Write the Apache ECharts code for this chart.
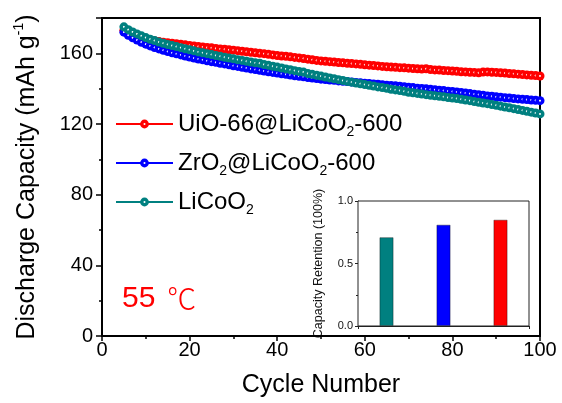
<!DOCTYPE html>
<html><head><meta charset="utf-8">
<script src="https://cdn.jsdelivr.net/npm/echarts@6/dist/echarts.min.js"></script>
<style>html,body{margin:0;padding:0;background:#fff}#c{width:562px;height:403px}</style>
</head><body><div id="c"></div>
<script>
// ---------- DATA ----------
const cycles = [5,6,7,8,9,10,11,12,13,14,15,16,17,18,19,20,21,22,23,24,25,26,27,28,29,30,31,32,33,34,35,36,37,38,39,40,41,42,43,44,45,46,47,48,49,50,51,52,53,54,55,56,57,58,59,60,61,62,63,64,65,66,67,68,69,70,71,72,73,74,75,76,77,78,79,80,81,82,83,84,85,86,87,88,89,90,91,92,93,94,95,96,97,98,99,100];
const seriesNames = ['UiO-66@LiCoO2-600', 'ZrO2@LiCoO2-600', 'LiCoO2'];
const uioCapacity = [173.0,171.6,170.5,169.6,168.8,168.2,167.6,167.1,166.7,166.3,166.0,165.7,165.4,165.1,164.8,164.5,164.2,163.9,163.6,163.3,163.1,162.8,162.5,162.3,162.0,161.8,161.5,161.2,160.9,160.6,160.3,160.0,159.8,159.5,159.1,158.8,158.5,158.3,158.0,157.7,157.4,157.1,156.7,156.4,156.0,155.7,155.5,155.3,155.1,154.8,154.6,154.4,154.2,154.0,153.8,153.5,153.3,153.1,152.9,152.6,152.4,152.2,152.1,151.9,151.8,151.6,151.4,151.3,151.1,151.3,150.8,150.6,150.5,150.3,150.2,150.0,149.8,149.6,149.5,149.3,149.2,149.0,149.4,149.5,149.3,149.2,149.0,148.8,148.6,148.4,148.2,148.0,147.8,147.6,147.4,147.2];
const zro2Capacity = [172.0,170.2,168.8,167.5,166.3,165.2,164.2,163.3,162.5,161.7,161.0,160.3,159.7,159.1,158.5,157.9,157.3,156.8,156.3,155.8,155.3,154.9,154.4,154.0,153.5,153.0,152.6,152.1,151.7,151.2,150.8,150.4,150.0,149.6,149.2,148.8,148.4,148.1,147.7,147.3,147.0,146.7,146.3,146.0,145.7,145.4,145.2,144.9,144.7,144.4,144.2,144.0,143.8,143.5,143.3,143.1,142.9,142.7,142.5,142.2,142.0,141.8,141.6,141.3,141.1,140.8,140.6,140.3,140.1,139.9,139.6,139.4,139.1,138.9,138.6,138.4,138.1,137.8,137.5,137.2,136.9,136.6,136.3,135.9,135.7,135.4,135.2,134.9,134.7,134.4,134.2,134.0,133.8,133.6,133.4,133.2];
const licoo2Capacity = [175.0,173.4,172.1,171.0,169.9,168.9,168.0,167.2,166.4,165.7,165.0,164.4,163.8,163.2,162.6,162.0,161.4,160.8,160.3,159.8,159.3,158.8,158.3,157.8,157.3,156.9,156.4,156.0,155.5,155.1,154.6,154.4,153.7,153.2,152.7,152.2,151.7,151.2,150.7,150.2,149.7,149.4,148.6,148.1,147.6,147.1,146.6,146.1,145.6,145.1,144.6,144.1,143.7,143.2,142.8,142.3,141.9,141.5,141.0,140.6,140.2,139.7,139.3,138.9,138.5,138.0,137.7,137.3,137.0,136.6,136.3,136.0,135.7,135.4,135.0,134.7,134.4,134.0,133.6,133.2,132.7,132.3,131.9,131.5,131.0,130.6,130.1,129.6,129.2,128.7,128.2,127.7,127.2,126.7,126.2,125.7];
const insetCategories = ['LiCoO2', 'ZrO2@LiCoO2-600', 'UiO-66@LiCoO2-600'];
const retention = [0.71, 0.81, 0.85];
const yMaxHidden = 180;

// ---------- STYLE ----------
const FF = '"Liberation Sans", Arial, Helvetica, sans-serif';
const colors = { 'UiO-66@LiCoO2-600': '#ff0000', 'ZrO2@LiCoO2-600': '#0000ff', 'LiCoO2': '#008080' };
const legendRich = {
  'UiO-66@LiCoO2-600': '{t|UiO-66@LiCoO}{s|2}{t|-600}',
  'ZrO2@LiCoO2-600': '{t|ZrO}{s|2}{t|@LiCoO}{s|2}{t|-600}',
  'LiCoO2': '{t|LiCoO}{s|2}'
};
function ball(c) {
  return new echarts.graphic.RadialGradient(0.5, 0.5, 0.5, [
    { offset: 0, color: '#ffffff' },
    { offset: 0.1, color: '#ffffff' },
    { offset: 0.32, color: c },
    { offset: 1, color: c }
  ]);
}
const capData = [uioCapacity, zro2Capacity, licoo2Capacity];
const lineSeries = seriesNames.map((name, k) => ({
  name: name,
  type: 'line',
  xAxisIndex: 0, yAxisIndex: 0,
  data: cycles.map((c, i) => [c, capData[k][i]]),
  symbol: 'circle',
  symbolSize: 9,
  showSymbol: true,
  showAllSymbol: true,
  lineStyle: { width: 1, color: colors[name] },
  itemStyle: { color: ball(colors[name]), borderWidth: 0 },
  emphasis: { disabled: true },
  z: 3 + k
}));

const chart = echarts.init(document.getElementById('c'), null, { renderer: 'canvas' });
chart.setOption({
  animation: false,
  backgroundColor: '#fff',
  textStyle: { fontFamily: FF },
  grid: [
    { left: 102, top: 18, width: 438, height: 324, show: true, borderColor: '#000', borderWidth: 2, backgroundColor: 'transparent' },
    { left: 358, top: 201, width: 171, height: 125, show: true, borderColor: '#222', borderWidth: 1, backgroundColor: '#fff', z: 10 }
  ],
  legend: {
    data: seriesNames,
    orient: 'vertical',
    left: 115, top: 112, padding: 0,
    itemWidth: 57, itemHeight: 11, itemGap: 12,
    formatter: n => legendRich[n],
    textStyle: {
      fontFamily: FF, color: '#000', fontSize: 24,
      rich: {
        t: { fontFamily: FF, fontSize: 24, lineHeight: 30, color: '#000' },
        s: { fontFamily: FF, fontSize: 14, lineHeight: 12, verticalAlign: 'bottom', color: '#000' }
      }
    },
    selectedMode: false
  },
  xAxis: [
    {
      type: 'value', gridIndex: 0, min: 0, max: 100, interval: 20,
      name: 'Cycle Number', nameLocation: 'middle', nameGap: 37,
      nameTextStyle: { fontFamily: FF, fontSize: 25, color: '#000' },
      axisLine: { lineStyle: { color: '#000', width: 2 } },
      axisTick: { show: true, length: 5, lineStyle: { color: '#000', width: 1.5 } },
      minorTick: { show: true, splitNumber: 2, length: 3, lineStyle: { color: '#000', width: 1.5 } },
      axisLabel: { fontFamily: FF, fontSize: 20, color: '#000', margin: 4 },
      splitLine: { show: false }, minorSplitLine: { show: false }
    },
    {
      type: 'category', gridIndex: 1, data: insetCategories, boundaryGap: true,
      axisLine: { lineStyle: { color: '#222', width: 1 } },
      axisTick: { show: true, length: 3, lineStyle: { color: '#222', width: 1 } },
      axisLabel: { show: false },
      splitLine: { show: false }
    }
  ],
  yAxis: [
    {
      type: 'value', gridIndex: 0, min: 0, max: 180, interval: 40, position: 'left',
      name: '{n|Discharge Capacity (mAh g}{p|-1}{n|)}',
      nameLocation: 'middle', nameRotate: 90, nameGap: 60,
      nameTextStyle: { fontFamily: FF, fontSize: 25, color: '#000',
        rich: {
          n: { fontFamily: FF, fontSize: 25, lineHeight: 30, color: '#000' },
          p: { fontFamily: FF, fontSize: 14, lineHeight: 14, verticalAlign: 'top', color: '#000' }
        } },
      axisLine: { lineStyle: { color: '#000', width: 2 } },
      axisTick: { show: true, length: 6, lineStyle: { color: '#000', width: 1.5 } },
      axisLabel: { fontFamily: FF, fontSize: 20, color: '#000', margin: 9,
        formatter: v => (v === yMaxHidden ? '' : String(v)) },
      splitLine: { show: false }
    },
    {
      type: 'value', gridIndex: 0, min: 0, max: 180, interval: 20, position: 'left', offset: 0,
      axisLine: { show: false },
      axisTick: { show: true, length: 3, lineStyle: { color: '#000', width: 1.5 } },
      axisLabel: { show: false },
      splitLine: { show: false }
    },
    {
      type: 'value', gridIndex: 1, min: 0, max: 1, interval: 0.5,
      name: 'Capacity Retention (100%)', nameLocation: 'middle', nameRotate: 90, nameGap: 33,
      nameTextStyle: { fontFamily: FF, fontSize: 12.5, color: '#111' },
      axisLine: { show: true, lineStyle: { color: '#222', width: 1 } },
      axisTick: { show: true, length: 3, lineStyle: { color: '#222', width: 1 } },
      minorTick: { show: true, splitNumber: 2, length: 2, lineStyle: { color: '#222', width: 1 } },
      axisLabel: { fontFamily: FF, fontSize: 11, color: '#111', margin: 5, formatter: v => v.toFixed(1) },
      splitLine: { show: false }, minorSplitLine: { show: false }
    }
  ],
  series: lineSeries.concat([{
    name: 'retention',
    type: 'bar',
    xAxisIndex: 1, yAxisIndex: 2,
    data: retention,
    barWidth: 14,
    itemStyle: {
      color: p => colors[insetCategories[p.dataIndex]],
      borderColor: 'rgba(0,0,0,0.45)', borderWidth: 0.8
    },
    emphasis: { disabled: true },
    z: 12
  }]),
  graphic: [{
    type: 'text', left: 122, top: 284, z: 20,
    style: {
      text: '{a|55}{b|℃}',
      rich: {
        a: { fontFamily: FF, fontSize: 30, fill: '#ff0000', lineHeight: 34 },
        b: { fontFamily: '"Noto Sans CJK SC", "DejaVu Sans", sans-serif', fontSize: 29, fontWeight: 300, fill: '#ff0000', lineHeight: 34, padding: [0, 0, 0, 12] }
      }
    }
  }]
});
</script>
</body></html>
